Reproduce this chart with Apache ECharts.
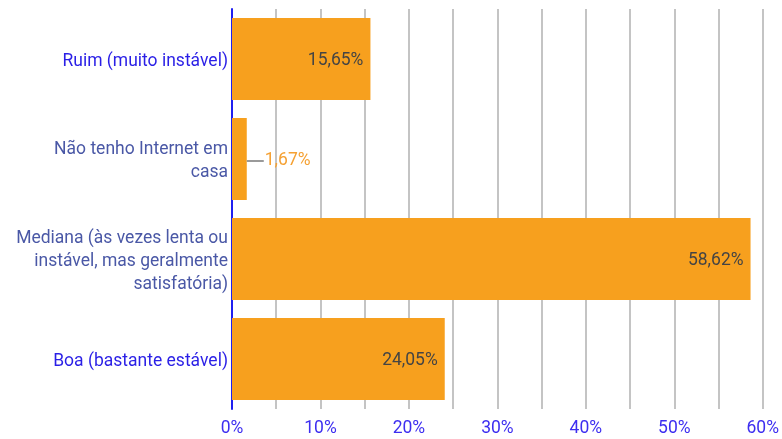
<!DOCTYPE html>
<html><head><meta charset="utf-8">
<script src="https://cdn.jsdelivr.net/npm/echarts@6/dist/echarts.min.js"></script>
<style>html,body{margin:0;padding:0;background:#fff}#c{width:782px;height:439px}</style>
</head><body><div id="c"></div>
<script>
const categories = ["Ruim (muito instável)", "Não tenho Internet em casa", "Mediana (às vezes lenta ou instável, mas geralmente satisfatória)", "Boa (bastante estável)"];
const tickLabels = ["Ruim (muito instável)", "Não tenho Internet em\ncasa", "Mediana (às vezes lenta ou\ninstável, mas geralmente\nsatisfatória)", "Boa (bastante estável)"];
const values = [15.65, 1.67, 58.62, 24.05];
const labelColors = ['#2a1fe6', '#4a58a6', '#4a58a6', '#2a1fe6'];

const FS = 17.5;
const fmt = v => v.toFixed(2).replace('.', ',') + '%';
const data = values.map((v, i) => {
  const item = { value: v };
  if (v < 5) {
    item.label = {
      position: 'right', distance: 0, offset: [0, 2],
      formatter: p => '{ln|}{t|' + fmt(p.value) + '}',
      rich: {
        ln: { width: 17, height: 2, backgroundColor: '#9a9a9a' },
        t: { color: '#f5a133', fontSize: FS, fontFamily: 'Roboto', padding: [0, 0, 0, 1] }
      }
    };
  }
  return item;
});

const chart = echarts.init(document.getElementById('c'), null, { renderer: 'canvas' });
chart.setOption({
  animation: false,
  grid: { left: 232, right: 16, top: 9, bottom: 30, containLabel: false },
  xAxis: {
    type: 'value', min: 0, max: 60, interval: 5,
    axisLine: { show: false }, axisTick: { show: false },
    splitLine: { show: true, lineStyle: { color: '#c4c4c4', width: 2 } },
    axisLabel: {
      color: '#3d2ef0', fontSize: FS, fontFamily: 'Roboto', margin: 11,
      formatter: v => (v % 10 === 0 ? v + '%' : '')
    }
  },
  yAxis: {
    type: 'category', inverse: true,
    data: categories,
    axisLine: { show: true, lineStyle: { color: '#1f1ff0', width: 2 } },
    axisTick: { show: false },
    axisLabel: {
      fontSize: FS, fontFamily: 'Roboto', lineHeight: 23, margin: 4,
      padding: [5, 0, 0, 0],
      formatter: (v, i) => '{c' + i + '|' + tickLabels[i].split('\n').join('}\n{c' + i + '|') + '}',
      rich: Object.fromEntries(labelColors.map((c, i) => ['c' + i, { color: c, fontSize: FS, fontFamily: 'Roboto', lineHeight: 23, align: 'right' }]))
    }
  },
  series: [{
    type: 'bar', data: data,
    barCategoryGap: '18%',
    itemStyle: { color: '#f7a01e' },
    label: {
      show: true, position: 'insideRight', distance: 7, offset: [0, 2],
      color: '#444444', fontSize: FS, fontFamily: 'Roboto',
      formatter: p => fmt(p.value)
    }
  }]
});
</script></body></html>
